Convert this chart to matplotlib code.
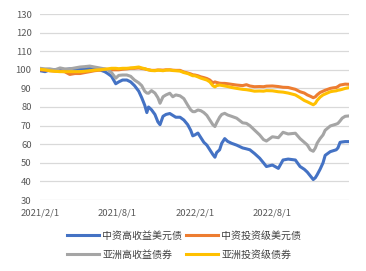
import matplotlib
matplotlib.use("Agg")
import matplotlib.pyplot as plt
import matplotlib.dates as mdates
import pandas as pd

plt.rcParams['font.family'] = ['Noto Sans CJK SC', 'DejaVu Sans']

dates = ["2021-02-01","2021-02-13","2021-02-24","2021-03-08","2021-03-20","2021-03-31","2021-04-12","2021-04-24",
         "2021-05-06","2021-05-17","2021-05-29","2021-06-09","2021-06-21","2021-07-03","2021-07-10","2021-07-19",
         "2021-07-29","2021-08-05","2021-08-14","2021-08-24","2021-09-02","2021-09-11","2021-09-21","2021-09-28",
         "2021-10-05","2021-10-10","2021-10-14","2021-10-21","2021-10-29","2021-11-05","2021-11-10","2021-11-17",
         "2021-11-24","2021-12-03","2021-12-10","2021-12-17","2021-12-27","2022-01-05","2022-01-14","2022-01-21",
         "2022-01-26","2022-01-31","2022-02-07","2022-02-14","2022-02-21","2022-02-28","2022-03-07","2022-03-14",
         "2022-03-19","2022-03-23","2022-03-30","2022-04-04","2022-04-11","2022-04-18","2022-04-27","2022-05-09",
         "2022-05-23","2022-06-01","2022-06-09","2022-06-20","2022-07-02","2022-07-11","2022-07-18","2022-08-01",
         "2022-08-15","2022-08-26","2022-09-07","2022-09-24","2022-10-05","2022-10-15","2022-10-22","2022-10-29",
         "2022-11-05","2022-11-10","2022-11-14","2022-11-21","2022-11-28","2022-12-03","2022-12-15","2022-12-22",
         "2022-12-29","2023-01-02","2023-01-07","2023-01-12","2023-01-19","2023-01-28"]

cn_hy = [99.5,99,100,100,100.3,100,100.5,100.3,100.5,100.5,100.8,100.5,100,99,98,96.5,
         92.5,93.5,94.5,94.5,93.5,91.5,88.5,85,81,77,80,78.5,76,72,70.5,75,
         76,76.5,75.5,74.5,74.5,73,70.5,67.5,64.5,65,66,63.5,61,59.5,57,54.5,
         53,55.5,57,60.5,63,61.5,60.5,59.5,58,57.5,57,55,52.5,50,48,48.8,
         47,51.5,52,51.5,48,46.5,45,43,41,42,43.5,46.5,50,54,56,56.5,
         57,58,61,61.2,61.4,61.4]

cn_ig = [100,99.8,99.5,99.3,99.2,99,97.5,98,98,98.5,99,99.5,99.8,100.3,100.2,100,
         100,100,100.3,100.5,100.8,100.8,101,100.7,100.5,100.2,100,99.7,99.7,99.9,99.9,99.8,
         100,100,99.8,99.7,99.7,98.8,98.3,97.8,97.3,97.2,96.8,96.2,95.8,95.3,94.5,93,
         93.5,93.2,92.8,92.7,92.7,92.5,92.2,91.8,91.5,92,91.3,90.9,91,90.9,91.2,91.3,
         91,90.6,90.5,89.5,88.2,87.5,86.5,85.8,85,85.5,86.5,87.8,88.5,89,90,90.3,
         90.5,91,91.8,92,92.3,92.2]

asia_hy = [100.8,100.5,100.5,100,101,100.5,100.5,101,101.5,101.7,102,101.5,101,100.5,100,98.5,
           95.5,97,97.2,97.2,96.5,94.5,93,91.5,88.5,87.5,87.4,88.8,87.5,85,82,85.5,
           86.5,87.4,85.5,86.5,86,84.5,81,78.5,77.5,77.5,78.4,78,77,75.5,73,70.5,
           69.5,71.5,74.5,76,76.6,75.7,75,74,71.5,71.2,70,67.6,65,62.5,61.7,64,
           63.5,66.4,65.5,65.9,63,61,59.6,57,56.2,58,60.5,63,65,67.5,69.8,70.3,
           70.8,71.2,72.5,74,75,75.2]

asia_ig = [100.3,100,99.5,99.2,99,99,99,99,99,99.2,99.5,99.8,100,100.3,100.5,100.8,
           100.8,100.6,100.8,100.8,101,101.2,101.5,101,100.6,100.2,100,99.6,99.5,99.8,99.7,99.5,
           99.8,99.9,99.6,99.5,99.3,98.5,98,97.3,96.8,96.8,96.2,95.5,95,94.5,93.5,91.5,
           90.8,91.5,91.8,91.6,91.3,91,90.5,90,89.5,89.3,89,88.5,88.6,88.5,88.8,88.7,
           88.2,88,87.5,86.5,85,83.5,82.8,82,81.2,82,83.5,85.3,86.5,87,88.2,88.5,
           88.7,89,89.2,89.5,90,90.4]

labels = ["中资高收益美元债", "中资投资级美元债", "亚洲高收益债券", "亚洲投资级债券"]
colors = ["#4472C4", "#ED7D31", "#A5A5A5", "#FFC000"]
yticks = [30, 40, 50, 60, 70, 80, 90, 100, 110, 120, 130]
xticks = ["2021-02-01", "2021-08-01", "2022-02-01", "2022-08-01"]
xticklabels = ["2021/2/1", "2021/8/1", "2022/2/1", "2022/8/1"]

d = pd.to_datetime(dates)

fig = plt.figure(figsize=(3.66, 2.71), dpi=100)
ax = fig.add_axes([40/366, 1-200/271, 309/366, 186/271])

series = [cn_hy, cn_ig, asia_hy, asia_ig]
lines = []
for vals, lab, col in zip(series, labels, colors):
    ln, = ax.plot(d, vals, color=col, lw=2.2, label=lab, solid_joinstyle='round')
    lines.append(ln)

ax.set_ylim(30, 130)
ax.set_yticks(yticks)
ax.set_xlim(pd.Timestamp("2021-02-01"), pd.Timestamp("2023-01-28"))
ax.set_xticks(pd.to_datetime(xticks))
ax.set_xticklabels(xticklabels)
ax.grid(axis='y', color='#D9D9D9', lw=0.9)
ax.set_axisbelow(True)
for s in ax.spines.values():
    s.set_visible(False)
ax.tick_params(axis='both', length=0, labelsize=6.8, colors='#595959')
ax.tick_params(axis='x', pad=6)
ax.tick_params(axis='y', pad=6)

leg = fig.legend(handles=[lines[0], lines[2], lines[1], lines[3]],
                 labels=[labels[0], labels[2], labels[1], labels[3]],
                 ncol=2, loc='center', bbox_to_anchor=(0.503, 0.096),
                 frameon=False, fontsize=7.2, handlelength=3.2, handletextpad=0.3,
                 columnspacing=0.4, labelspacing=0.9)
for t in leg.get_texts():
    t.set_color('#404040')

fig.savefig("out.png", dpi=100)
